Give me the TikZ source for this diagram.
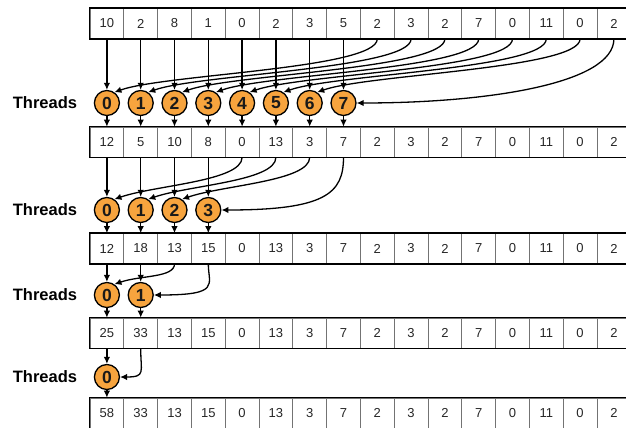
\documentclass[tikz,border=0pt]{standalone}
\usepackage{fontspec}
\setmainfont{Liberation Sans}
\usetikzlibrary{arrows.meta}

\definecolor{threadorange}{RGB}{247,164,62}

\begin{document}
\begin{tikzpicture}[x=1pt, y=-1pt,
    cell/.style={draw=black!55, line width=0.7pt, minimum width=33.8pt,
      minimum height=30pt, inner sep=0pt, text=black!85,
      font=\fontsize{13}{15}\selectfont},
    thread/.style={circle, draw=black, line width=1.3pt, fill=threadorange,
      minimum size=25pt, inner sep=0pt, text=black!90,
      font=\fontsize{17.5}{17}\selectfont\bfseries},
    lbl/.style={font=\fontsize{16.5}{18}\selectfont\bfseries},
    arr/.style={-{Latex[length=7pt, width=6.5pt]}, line width=1.3pt}
  ]
    \clip (0,0) rectangle (626,428);

    % the five arrays
    \foreach \r/\y/\vals in {
        1/23.5/{10,2,8,1,0,2,3,5,2,3,2,7,0,11,0,2},
        2/142/{12,5,10,8,0,13,3,7,2,3,2,7,0,11,0,2},
        3/248.5/{12,18,13,15,0,13,3,7,2,3,2,7,0,11,0,2},
        4/333/{25,33,13,15,0,13,3,7,2,3,2,7,0,11,0,2},
        5/413/{58,33,13,15,0,13,3,7,2,3,2,7,0,11,0,2}} {
      \foreach \v [count=\i from 0] in \vals
        \node[cell] (a\r-\i) at ({106.9+33.8*\i}, \y) {\v};
      \draw[line width=1.6pt] (a\r-0.north west) rectangle (a\r-15.south east);
    }

    % threads and their arrows
    \foreach \k/\kk/\n/\y/\dn/\dx/\dy in {1/2/8/103/30/50/18, 2/3/4/210/24/40/14,
        3/4/2/295/14/26/9, 4/5/1/377/16/10/0} {
      \node[lbl] (lbl\k) at (45, \y) {Threads};
      \foreach \i in {1,...,\n} {
        \pgfmathtruncatemacro{\t}{\i-1}
        \pgfmathtruncatemacro{\s}{\i-1+\n}
        \node[thread] (t\k-\t) at ({106.9+33.8*\t}, \y) {\t};
        \draw[arr] (a\k-\t.south) -- (t\k-\t.north);
        \draw[arr] (t\k-\t.south) -- (a\kk-\t.north);
        \ifnum\i<\n
          \draw[arr] (a\k-\s.south) .. controls +(0,\dn) and +(\dx,-\dy) .. (t\k-\t.55);
        \else
          \draw[arr] (a\k-\s.south) .. controls +(0,1.5*\dn) and +(2.6*\dx,0) .. (t\k-\t.east);
        \fi
      }
    }
  \end{tikzpicture}
\end{document}
